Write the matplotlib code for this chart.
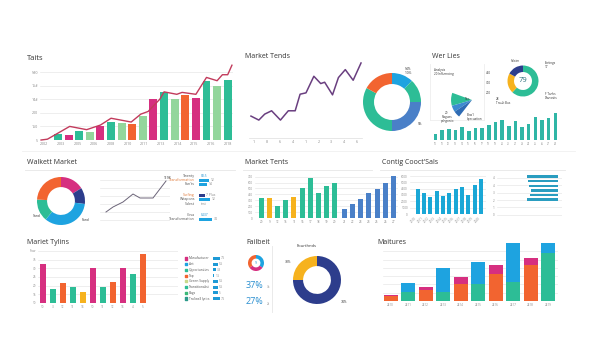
import matplotlib.pyplot as plt
import numpy as np

# ---- data ----
tails_values = [22, 18, 32, 28, 51, 66, 63, 60, 88, 151, 177, 151, 165, 154, 217, 200, 222]
tails_colors = ['teal', 'mag', 'teal', 'lgreen', 'mag', 'teal', 'lgreen', 'orange', 'lgreen',
                'mag', 'teal', 'lgreen', 'orange', 'mag', 'teal', 'lgreen', 'teal']
tails_line_x = [-1.6, -1.0, 1.1, 2.7, 4.0, 5.0, 6.9, 7.8, 8.5, 9.6, 10.0, 11.2, 11.7, 13.0, 14.0, 15.0, 15.5, 16.0, 16.4]
tails_line_y = [0, 3, 50, 38, 55, 80, 66, 95, 105, 150, 177, 168, 175, 168, 230, 218, 240, 240, 275]
tails_years = ['2002', '2003', '2005', '2006', '2008', '2010', '2011', '2013', '2014', '2015', '2016', '2018']
tails_yticks = [0, 50, 100, 150, 200, 250]
tails_ylabels = ['5', '150', '200', '14#', '15#', '5#0']

trend_x = [9, 17, 23, 30, 39, 47, 54, 59, 65, 73, 80, 84, 92, 98, 105, 113, 121]
trend_y = [16, 10, 19, 24, 10, 24, 24, 49, 51, 76, 65, 67, 48, 74, 86, 70, 96]
trend_xlabels = ['1', '8', '6', '4', '1', '2', '3', '4', '6']

donut1_values = [12, 13, 25, 33, 17]
donut1_colors = ['blue', 'teal', 'steel', 'teal', 'orange']

fan_values = [36, 18, 18, 288]
fan_colors = ['teal', '#3d8bd0', '#2f6cb4', 'none']

donut2_values = [62, 21, 17]
donut2_colors = ['teal', 'yellow', 'navy']

wl_bars = [15, 25, 28, 25, 33, 23, 30, 30, 38, 45, 50, 35, 47, 33, 40, 58, 50, 55, 67]

wm_values = [16, 11, 34, 15, 24]
wm_colors = ['mag', 'navy', 'blue', 'teal', 'orange']
wm_line_x = [6, 13, 23, 33, 40, 47, 53, 66]
wm_line_y = [10, 15, 20, 28, 24, 24, 24, 41]

list_labels = ['Twenty', 'Transformation', "Fun'ts", 'Surfing', 'Weapons', 'Salest', 'Cosa', 'Transformation']
list_label_colors = ['#555555', '#e07a3a', '#555555', '#e07a3a', '#555555', '#555555', '#555555', '#555555']
list_bars = [0, 10, 8, 6, 11, 0, 0, 13]
list_bar_colors = ['blue', 'blue', 'blue', 'navy', 'blue', 'blue', 'blue', 'blue']
list_notes = ['$8.5', '12', '14', '7 Plus', '12', 'test', '$437', '34']

mt_values = [340, 340, 205, 305, 360, 500, 680, 415, 540, 595, 150, 235, 315, 430, 495, 595, 710]
mt_colors = ['teal', 'yellow', 'teal', 'teal', 'yellow', 'teal', 'teal', 'teal', 'teal', 'teal'] + ['steel'] * 7
mt_xlabels = ['20', '9', '12', '15', '11', '16', '17', '18', '19', '20', '21', '22', '23', '24', '25', '26', '27']

cc_values = [390, 326, 263, 363, 290, 337, 390, 432, 295, 458, 547]
cc_xlabels = ['2010', '2011', '2012', '2013', '2014', '2015', '2016', '2017', '2018', '2019', '2020']
cc_hbars = [33, 32, 31, 29, 30, 33]
cc_hlabels = ['4', '4', '3', '2', '1', '0']

mty_values = [450, 158, 235, 185, 127, 400, 185, 242, 400, 338, 565]
mty_colors = ['mag', 'teal', 'orange', 'teal', 'yellow', 'mag', 'teal', 'orange', 'mag', 'teal', 'orange']
mty_xlabels = ['10', '3', '12', '11', '13', '10', '11', '12', '13', '4', '5']

leg_labels = ['Manufacturer', 'Ast', 'Opportunities', 'Top', 'Green Supply', 'Transitionalist', 'Bags', 'Trailwell lyrics']
leg_colors = ['mag', 'blue', 'teal', 'orange', '#c8d98a', 'teal', '#3cb878', '#2c9a8a']
leg_values = [7.5, 5.5, 3.3, 1.5, 5.5, 5.5, 5.0, 7.5]

fail_values = [35, 30, 35]
fail_colors = ['blue', 'mag', 'orange']

four_values = [75, 25]
four_colors = ['navy', 'yellow']

mat_orange = [5.5, 0, 13, 0, 20, 0, 32, 0, 43, 0]
mat_green = [0, 10.4, 0, 11, 0, 20, 0, 23, 0, 58]
mat_magenta = [1.5, 0, 4, 0, 9, 0, 11, 0, 9, 0]
mat_blue = [0, 10.8, 0, 29, 0, 27, 0, 47, 0, 12]
mat_xlabels = ['2k10', '2k11', '2k12', '2k13', '2k14', '2k15', '2k16', '2k17', '2k18', '2k19']

# ---- style ----
PAL = {'teal': '#2dbd96', 'mag': '#d62f80', 'lgreen': '#93d69c', 'orange': '#f26430',
       'yellow': '#f6b21e', 'blue': '#1ea3e0', 'steel': '#4a80c8', 'navy': '#2d3d8c'}


def col(c):
    return PAL.get(c, c)


plt.rcParams['font.family'] = ['Open Sans', 'DejaVu Sans']
W, H = 600, 338
fig = plt.figure(figsize=(6, 3.38), dpi=100)
fig.patch.set_facecolor('white')
GRID = '#e8e8e8'
TICK = '#888888'


def box(x0, y0, x1, y1):
    ax = fig.add_axes([x0 / W, 1 - y1 / H, (x1 - x0) / W, (y1 - y0) / H])
    ax.patch.set_alpha(0)
    return ax


def ptext(x, y, s, **kw):
    kw.setdefault('color', '#333333')
    kw.setdefault('va', 'center')
    fig.text(x / W, 1 - y / H, s, **kw)


def hline(x0, x1, y, c='#e6e6e6', lw=0.6):
    fig.add_artist(plt.Line2D([x0 / W, x1 / W], [1 - y / H, 1 - y / H], color=c, lw=lw))


def vline(x, y0, y1, c='#e6e6e6', lw=0.6):
    fig.add_artist(plt.Line2D([x / W, x / W], [1 - y0 / H, 1 - y1 / H], color=c, lw=lw))


def clean(ax, grid=True):
    for s in ax.spines.values():
        s.set_visible(False)
    ax.tick_params(length=0, labelsize=2.6, colors=TICK, pad=1.5)
    if grid:
        ax.yaxis.grid(True, color=GRID, lw=0.5)
        ax.set_axisbelow(True)


def donut(cx, cy, r, values, colors, width, start=90, ccw=False):
    ax = box(cx - r * 1.05, cy - r * 1.05, cx + r * 1.05, cy + r * 1.05)
    ax.pie(values, colors=[col(c) for c in colors], startangle=start, counterclock=ccw,
           wedgeprops=dict(width=width, linewidth=0))
    ax.set_xlim(-1.05, 1.05)
    ax.set_ylim(-1.05, 1.05)
    ax.set_aspect('equal')
    ax.axis('off')
    return ax


# ---- row 1: Taits ----
ptext(27, 58, 'Taits', fontsize=5.5)
ax = box(40, 72, 233, 140)
clean(ax)
ax.bar(range(len(tails_values)), tails_values, width=0.75, color=[col(c) for c in tails_colors])
ax.plot(tails_line_x, tails_line_y, color='#c23b5c', lw=1.0, clip_on=False, zorder=3)
ax.set_xlim(-1.7, 16.5)
ax.set_ylim(0, 250)
ax.set_yticks(tails_yticks)
ax.set_yticklabels(tails_ylabels)
ax.set_xticks(np.linspace(-1.3, 16.0, len(tails_years)))
ax.set_xticklabels(tails_years)

# ---- row 1: Market Tends ----
ptext(245, 57, 'Market Tends', fontsize=5)
ax = box(249, 60, 362, 138)
clean(ax, grid=False)
ax.plot(trend_x, trend_y, color='#6a3f80', lw=1.1)
ax.set_xlim(7, 122)
ax.set_ylim(-17, 100.5)
ax.set_yticks([])
ax.spines['bottom'].set_visible(True)
ax.spines['bottom'].set_color('#dddddd')
ax.spines['bottom'].set_linewidth(0.5)
ax.set_xticks(np.linspace(12, 117, len(trend_xlabels)))
ax.set_xticklabels(trend_xlabels)

donut(392, 102, 29, donut1_values, donut1_colors, 0.38)
ptext(405, 71, '54%\n1.0%', fontsize=2.4, ha='left')
ptext(418, 124, '5%', fontsize=2.4, ha='left')

# ---- row 1: Wer Lies ----
ptext(432, 57, 'Wer Lies', fontsize=5)
vline(430, 64, 120, c='#eeeeee')
hline(430, 484, 120, c='#eeeeee')
vline(484, 64, 120, c='#eeeeee')
ax = box(450, 78, 494, 122)
ax.pie(fan_values, colors=[col(c) for c in fan_colors], startangle=160, counterclock=True,
       wedgeprops=dict(linewidth=0))
ax.set_xlim(-1.05, 1.05)
ax.set_ylim(-1.05, 1.05)
ax.set_aspect('equal')
ax.axis('off')
ptext(434, 72, 'Analysis\n20 Influencing', fontsize=2.2, ha='left', linespacing=1.2)
ptext(465, 99, 'Tics', fontsize=2.2, ha='left')
ptext(447, 117, '20\nPlagues\npehgonto', fontsize=2.2, ha='center', linespacing=1.1)
ptext(467, 117, "Bow'll\nbpecuation", fontsize=2.2, ha='left', linespacing=1.1)
for yy, t in zip([73, 83, 93], ['400', '300', '200']):
    ptext(486, yy, t, fontsize=2.2, ha='left')
donut(523, 81, 15.5, donut2_values, donut2_colors, 0.42)
ptext(523, 81, '79', fontsize=5.5, ha='center', color='#2a6f7a')
ptext(515, 61, 'Saleim', fontsize=2.2, ha='center')
ptext(545, 65, 'Fortings\n17', fontsize=2.2, ha='left', linespacing=1.1)
ptext(545, 96, 'F Tanks\nDianosits', fontsize=2.2, ha='left', linespacing=1.1)
ptext(496, 101, '28\nTrault Bus', fontsize=2.2, ha='left', linespacing=1.1)

ax = box(430, 112, 560, 140)
clean(ax, grid=False)
ax.bar(range(len(wl_bars)), wl_bars, width=0.55, color='#30b6a6')
ax.set_xlim(-0.8, len(wl_bars) - 0.3)
ax.set_ylim(0, 70)
ax.set_yticks([])
ax.set_xticks(range(len(wl_bars)))
ax.set_xticklabels([str(10 + i) for i in range(len(wl_bars))], fontsize=1.8)

hline(22, 575, 151, c='#f0f0f0')

# ---- row 2: Walkett Market ----
ptext(27, 163, 'Walkett Market', fontsize=5)
hline(25, 235, 170)
donut(61, 201, 24, wm_values, wm_colors, 0.42)
ptext(37, 216, 'Sund', fontsize=2.4, ha='center')
ptext(86, 220, 'Fund', fontsize=2.4, ha='center')

ax = box(100, 177, 170, 222)
clean(ax)
ax.plot(wm_line_x, wm_line_y, color='#6b6478', lw=0.7)
ax.set_xlim(0, 70)
ax.set_ylim(0, 45)
ax.set_yticks([2, 10, 18, 26, 34, 42])
ax.set_yticklabels([])
ax.set_xticks([])
ptext(167, 178, '1198', fontsize=2.4, ha='center')

ax = box(150, 172, 235, 224)
ax.axis('off')
list_rows = [0, 1, 2, 4.6, 5.6, 6.6, 9.3, 10.4]
ax.set_xlim(0, 85)
ax.set_ylim(11.5, -1)
ax.barh(list_rows, list_bars, left=49, height=0.6, color=[col(c) for c in list_bar_colors])
for r, lab, lc, v, note in zip(list_rows, list_labels, list_label_colors, list_bars, list_notes):
    ax.text(45, r, lab, fontsize=2.6, ha='right', va='center', color=lc)
    ax.text(49 + v + 1.5, r, note, fontsize=2.4, ha='left', va='center',
            color='#1e90d0' if note.startswith('$') else '#888888')

# ---- row 2: Market Tents ----
ptext(245, 163, 'Market Tents', fontsize=5)
hline(243, 372, 170)
ax = box(255, 176, 398, 218)
clean(ax)
mt_x = [i if i < 10 else i + 0.3 for i in range(len(mt_values))]
ax.bar(mt_x, mt_values, width=0.62, color=[col(c) for c in mt_colors])
ax.set_xlim(-0.83, 16.9)
ax.set_ylim(0, 710)
ax.set_yticks(range(0, 701, 100))
ax.set_yticklabels(range(0, 701, 100), fontsize=2.2)
ax.set_xticks(mt_x)
ax.set_xticklabels(mt_xlabels, fontsize=2.2)

# ---- row 2: Contig ----
ptext(382, 163, "Contig Cooct'Sals", fontsize=5)
hline(380, 565, 170)
ax = box(410, 176, 486, 214)
clean(ax)
ax.bar(range(len(cc_values)), cc_values, width=0.6, color='#1aa7d6')
ax.set_xlim(-1.2, 10.8)
ax.set_ylim(0, 600)
ax.set_yticks(range(0, 601, 100))
ax.set_yticklabels([str(v * 10) for v in range(0, 601, 100)], fontsize=2.2)
ax.set_xticks(range(len(cc_values)))
ax.set_xticklabels(cc_xlabels, fontsize=2.2, rotation=45, ha='right')

ax = box(497, 172, 562, 218)
clean(ax, grid=False)
ax.barh(range(len(cc_hbars)), cc_hbars, height=0.5, color='#2a9dc0')
ax.set_xlim(65, -4)
ax.set_ylim(9, -1)
ax.set_yticks(np.arange(0.3, 8.4, 1.6))
ax.set_yticklabels(cc_hlabels, fontsize=2.2)
ax.yaxis.tick_left()
ax.yaxis.grid(True, color=GRID, lw=0.5)
ax.set_axisbelow(True)
ax.set_xticks([])

# ---- row 3: Mariet Tylins ----
ptext(27, 243, 'Mariet Tylins', fontsize=5)
ax = box(38, 251, 178, 303)
clean(ax)
ax.bar(range(len(mty_values)), mty_values, width=0.6, color=[col(c) for c in mty_colors])
ax.set_xlim(-0.47, 13.5)
ax.set_ylim(0, 600)
ax.set_yticks(range(0, 601, 100))
ax.set_yticklabels(['10', '15', '20', '25', '30', '35', 'Flow'], fontsize=2.2)
ax.set_xticks(range(len(mty_values)))
ax.set_xticklabels(mty_xlabels, fontsize=2.2)

ax = box(180, 255, 240, 302)
ax.axis('off')
ax.set_xlim(0, 60)
ax.set_ylim(7.6, -0.6)
rows = range(len(leg_labels))
ax.scatter([6] * len(leg_labels), rows, s=2.5, marker='s', color=[col(c) for c in leg_colors])
ax.barh(rows, [v * 0.9 for v in leg_values], left=33, height=0.55, color='#1e9ad6')
for r, lab, v in zip(rows, leg_labels, leg_values):
    ax.text(9, r, lab, fontsize=2.3, va='center', color='#555555')
    ax.text(33 + v * 0.9 + 1, r, f'{v:g}', fontsize=2.2, va='center', color='#888888')

# ---- row 3: Failbeit ----
ptext(246, 243, 'Failbeit', fontsize=5)
donut(256, 263, 8, fail_values, fail_colors, 0.45)
ptext(256, 263, '9', fontsize=2.5, ha='center', color='#1e90d0')
ptext(246, 285, '37%', fontsize=6.5, ha='left', color='#2a8fd0')
ptext(267, 287, '3a', fontsize=2.2, ha='left', color='#888888')
ptext(246, 302, '27%', fontsize=6.5, ha='left', color='#2a8fd0')
ptext(267, 304, '2s', fontsize=2.2, ha='left', color='#888888')
vline(272, 246, 312)

ptext(307, 246, 'Fourthnds', fontsize=3, ha='center')
donut(317, 280, 24, four_values, four_colors, 0.42)
ptext(288, 262, '38%', fontsize=2.4, ha='center')
ptext(344, 302, '74%', fontsize=2.4, ha='center')

# ---- row 3: Maitures ----
ptext(377, 243, 'Maitures', fontsize=5)
ax = box(383, 243, 558, 301)
clean(ax)
mx = range(len(mat_orange))
base = [a + b for a, b in zip(mat_orange, mat_green)]
ax.bar(mx, mat_orange, width=0.8, color=PAL['orange'])
ax.bar(mx, mat_green, width=0.8, bottom=mat_orange, color=PAL['teal'])
ax.bar(mx, mat_magenta, width=0.8, bottom=base, color=PAL['mag'])
ax.bar(mx, mat_blue, width=0.8, bottom=[b + m for b, m in zip(base, mat_magenta)], color=PAL['blue'])
ax.set_xlim(-0.44, 9.56)
ax.set_ylim(0, 70)
ax.set_yticks(range(0, 61, 10))
ax.set_yticklabels([])
ax.set_xticks(mx)
ax.set_xticklabels(mat_xlabels, fontsize=2.2)

fig.savefig('out.png', dpi=100, facecolor='white')
